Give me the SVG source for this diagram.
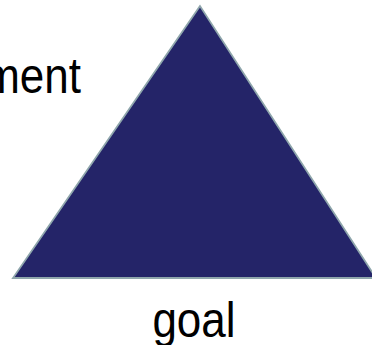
<svg xmlns="http://www.w3.org/2000/svg" width="372" height="345" viewBox="0 0 372 345">
<style>
.lbl{font-family:"Liberation Sans",Arial,sans-serif;font-size:44px;fill:#000}
.tri{fill:#242468;stroke:#8fa6ac;stroke-width:1.8}
</style>
<rect width="372" height="345" fill="#fff"/>
<g id="triangle"><polygon class="tri" points="200,6 13,278 376,278"/></g>
<g id="label-ment"><text class="lbl" transform="translate(81,93) scale(1,1.15)" text-anchor="end">ment</text></g>
<g id="label-goal"><text class="lbl" transform="translate(194,337) scale(1,1.12)" text-anchor="middle">goal</text></g>
<g id="connectors"></g>
</svg>
